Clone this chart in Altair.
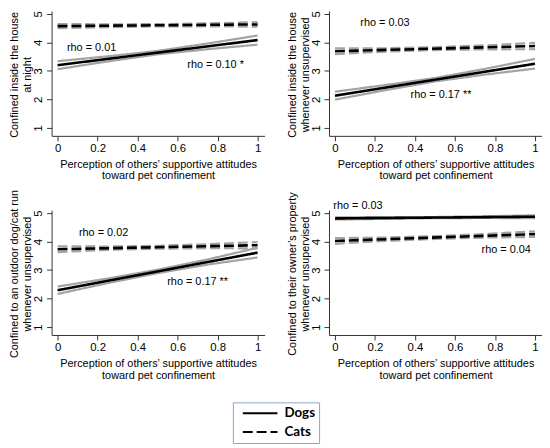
import altair as alt
import pandas as pd

ANIMALS = ["Dogs", "Cats"]
X_MEAN = [0, 1]
X_CI = [0, 0.25, 0.5, 0.75, 1]

Y_TITLES = [
    ["Confined inside the house", "at night"],
    ["Confined inside the house", "whenever unsupervised"],
    ["Confined to an outdoor dog/cat run", "whenever unsupervised"],
    ["Confined to their owner’s property", "whenever unsupervised"],
]
X_TITLE = ["Perception of others’ supportive attitudes", "toward pet confinement"]

# fitted lines (value at x=0 and x=1), one pair per panel
DOG_MEAN = [[3.20, 4.08], [2.13, 3.25], [2.29, 3.61], [4.81, 4.87]]
CAT_MEAN = [[4.57, 4.63], [3.69, 3.87], [3.73, 3.87], [4.02, 4.26]]

# confidence bounds read at X_CI
DOG_LO = [
    [3.06, 3.33, 3.58, 3.76, 3.92],
    [1.99, 2.32, 2.63, 2.87, 3.08],
    [2.16, 2.54, 2.89, 3.19, 3.44],
    [4.77, 4.795, 4.82, 4.825, 4.82],
]
DOG_HI = [
    [3.34, 3.51, 3.70, 3.96, 4.24],
    [2.27, 2.50, 2.75, 3.07, 3.42],
    [2.42, 2.70, 3.01, 3.37, 3.78],
    [4.85, 4.855, 4.86, 4.885, 4.92],
]
CAT_LO = [
    [4.50, 4.535, 4.56, 4.565, 4.55],
    [3.59, 3.675, 3.73, 3.755, 3.76],
    [3.63, 3.705, 3.75, 3.765, 3.76],
    [3.92, 4.02, 4.09, 4.14, 4.16],
]
CAT_HI = [
    [4.64, 4.635, 4.64, 4.665, 4.71],
    [3.79, 3.795, 3.83, 3.895, 3.98],
    [3.83, 3.825, 3.85, 3.905, 3.98],
    [4.12, 4.14, 4.19, 4.26, 4.36],
]

RHO_TEXT = [
    ["rho = 0.01", "rho = 0.10 *"],
    ["rho = 0.03", "rho = 0.17 **"],
    ["rho = 0.02", "rho = 0.17 **"],
    ["rho = 0.03", "rho = 0.04"],
]
RHO_X = [[0.17, 0.79], [0.25, 0.53], [0.23, 0.70], [0.115, 0.856]]
RHO_Y = [[3.81, 3.22], [4.68, 2.17], [4.31, 2.58], [5.24, 3.69]]

FONT = "Liberation Sans"
W, H = 215, 126

dash = alt.Scale(domain=ANIMALS, range=[[1, 0], [10, 4]])
x_scale = alt.Scale(domain=[-0.03, 1.035], nice=False, zero=False)
y_scale = alt.Scale(domain=[0.72, 5.10], nice=False, zero=False)

legend = alt.Legend(title=None, orient="none", legendX=183, legendY=395)

x_axis = alt.Axis(
    values=[0, 0.2, 0.4, 0.6, 0.8, 1],
    format=".1~f",
    title=X_TITLE,
    titlePadding=4,
    titleLineHeight=12,
)


def y_axis(title):
    return alt.Axis(
        values=[1, 2, 3, 4, 5],
        title=title,
        labelAngle=270,
        labelAlign="center",
        labelBaseline="bottom",
        labelPadding=3,
        labelOverlap=False,
        titleAngle=270,
        titleAlign="center",
        titleBaseline="bottom",
        titleX=-32,
        titleY=64,
        titleLineHeight=13,
    )


def panel(i):
    ci_rows = []
    for animal, lo, hi in [("Dogs", DOG_LO[i], DOG_HI[i]), ("Cats", CAT_LO[i], CAT_HI[i])]:
        for bound, vals in [("lo", lo), ("hi", hi)]:
            for x, v in zip(X_CI, vals):
                ci_rows.append({"x": x, "y": v, "animal": animal, "bound": bound})
    mean_rows = []
    for animal, vals in [("Dogs", DOG_MEAN[i]), ("Cats", CAT_MEAN[i])]:
        for x, v in zip(X_MEAN, vals):
            mean_rows.append({"x": x, "y": v, "animal": animal})
    text_df = pd.DataFrame({"x": RHO_X[i], "y": RHO_Y[i], "label": RHO_TEXT[i]})

    x_enc = alt.X("x:Q", scale=x_scale, axis=x_axis)
    y_enc = alt.Y("y:Q", scale=y_scale, axis=y_axis(Y_TITLES[i]))
    dash_enc = alt.StrokeDash("animal:N", scale=dash, legend=legend)

    ci = (
        alt.Chart(pd.DataFrame(ci_rows))
        .mark_line(color="#a3a3a3", strokeWidth=2.2)
        .encode(x=x_enc, y=y_enc, strokeDash=dash_enc, detail="bound:N")
    )
    mean = (
        alt.Chart(pd.DataFrame(mean_rows))
        .mark_line(color="black", strokeWidth=2.6)
        .encode(x=x_enc, y=y_enc, strokeDash=dash_enc)
    )
    text = (
        alt.Chart(text_df)
        .mark_text(font=FONT, fontSize=11, color="black")
        .encode(x=x_enc, y=y_enc, text="label:N")
    )
    return alt.layer(ci, mean, text).properties(width=W, height=H)


chart = alt.concat(
    panel(0), panel(1), panel(2), panel(3),
    columns=2,
    spacing={"row": 75, "column": 65},
    bounds="flush",
).properties(padding=0)

chart = (
    chart
    .configure_view(stroke=None)
    .configure_axis(
        grid=False,
        domainColor="#333333",
        tickColor="#333333",
        tickSize=5,
        labelFont=FONT,
        labelFontSize=11.5,
        labelColor="black",
        labelOverlap=False,
        titleFont=FONT,
        titleFontSize=11,
        titleFontWeight="normal",
        titleColor="black",
        labelPadding=2,
    )
    .configure_legend(
        strokeColor="#8fa2c6",
        padding=4,
        symbolType="stroke",
        symbolStrokeColor="black",
        symbolStrokeWidth=2,
        symbolSize=1225,
        symbolOffset=5,
        clipHeight=14,
        rowPadding=5,
        labelFont="Lato",
        labelFontWeight="bold",
        labelFontSize=13.5,
        labelColor="black",
        labelOffset=6,
    )
)

chart.save("out.html", embed_options={"renderer": "svg", "actions": False})
